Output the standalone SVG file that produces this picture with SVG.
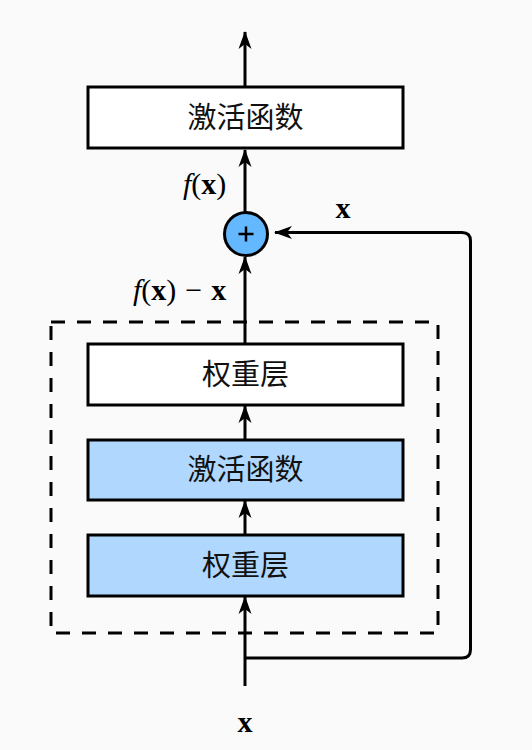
<svg xmlns="http://www.w3.org/2000/svg" width="532" height="750" viewBox="0 0 532 750">
<style>
.box{stroke:#000;stroke-width:3}
.w{fill:#fff}
.b{fill:#b0d8ff}
.lbl{font-family:"Noto Sans CJK SC","Noto Sans",sans-serif;font-size:29px;text-anchor:middle;fill:#111}
.m{font-family:"Liberation Serif","Times New Roman",serif;font-size:30px;fill:#000}
.ln{fill:none;stroke:#000;stroke-width:3}
</style>
<defs>
<marker id="ah" viewBox="0 0 18 14" refX="17" refY="7" markerWidth="18" markerHeight="14" markerUnits="userSpaceOnUse" orient="auto">
<path d="M18,7 L0,0.5 L5,7 L0,13.5 Z" fill="#000"/>
</marker>
</defs>
<rect width="532" height="750" fill="#fafafa"/>
<g id="connectors">
<line class="ln" x1="245" y1="87" x2="245" y2="32" marker-end="url(#ah)"/>
<line class="ln" x1="245" y1="212" x2="245" y2="150" marker-end="url(#ah)"/>
<line class="ln" x1="245" y1="344" x2="245" y2="257" marker-end="url(#ah)"/>
<line class="ln" x1="245" y1="440" x2="245" y2="406" marker-end="url(#ah)"/>
<line class="ln" x1="245" y1="535" x2="245" y2="501" marker-end="url(#ah)"/>
<line class="ln" x1="245" y1="686" x2="245" y2="597" marker-end="url(#ah)"/>
<path class="ln" d="M245,658 H462 Q470.5,658 470.5,649.5 V241 Q470.5,232.5 462,232.5 H275" marker-end="url(#ah)"/>
</g>
<g id="dashed">
<rect x="51" y="322" width="387" height="311" fill="none" stroke="#000" stroke-width="3" stroke-dasharray="14 12"/>
</g>
<g id="act-top">
<rect class="box w" x="88" y="87" width="315" height="61"/>
<text class="lbl" x="245.5" y="128">激活函数</text>
</g>
<g id="sum">
<circle cx="246" cy="234" r="21.5" fill="#64b8ff" stroke="#000" stroke-width="3"/>
<path d="M238.5,234 H253.5 M246,226.5 V241.5" stroke="#000" stroke-width="2.5"/>
</g>
<g id="weight2">
<rect class="box w" x="88" y="344" width="315" height="61"/>
<text class="lbl" x="245.5" y="385">权重层</text>
</g>
<g id="act">
<rect class="box b" x="88" y="440" width="315" height="60"/>
<text class="lbl" x="245.5" y="480">激活函数</text>
</g>
<g id="weight1">
<rect class="box b" x="88" y="535" width="315" height="61"/>
<text class="lbl" x="245.5" y="576">权重层</text>
</g>
<g id="labels">
<text class="m" x="183" y="194"><tspan font-style="italic">f</tspan>(<tspan font-weight="bold">x</tspan>)</text>
<text class="m" x="133" y="300"><tspan font-style="italic">f</tspan>(<tspan font-weight="bold">x</tspan>)<tspan dx="9">−</tspan><tspan dx="9" font-weight="bold">x</tspan></text>
<text class="m" x="343" y="218" text-anchor="middle" font-weight="bold">x</text>
<text class="m" x="245" y="732" text-anchor="middle" font-weight="bold">x</text>
</g>
</svg>
